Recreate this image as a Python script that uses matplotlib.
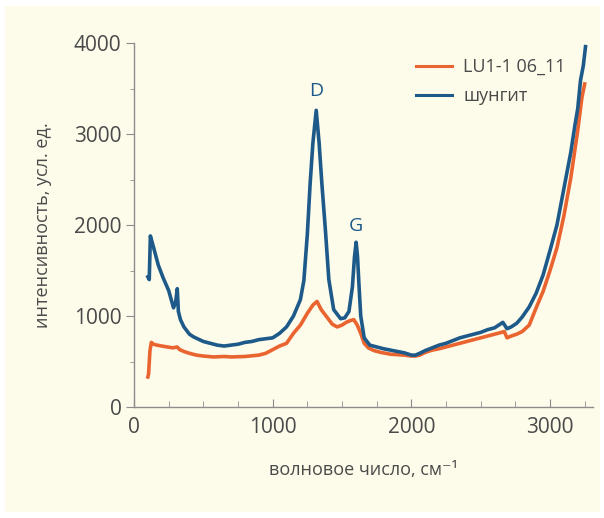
import numpy as np
import matplotlib.pyplot as plt
import matplotlib as mpl
from matplotlib.patches import Rectangle

mpl.rcParams["font.family"] = ["Open Sans", "DejaVu Sans"]

# шунгит (blue)
x_sh = [100, 110, 118, 140, 175, 210, 250, 285, 300, 312, 320, 335, 360, 400, 430, 500,
        550, 600, 650, 700, 750, 800, 850, 900, 950, 1000, 1050, 1100, 1150, 1200, 1225,
        1250, 1270, 1290, 1314, 1335, 1355, 1380, 1405, 1440, 1490, 1520, 1550, 1575, 1590,
        1602, 1612, 1622, 1635, 1660, 1700, 1750, 1800, 1850, 1900, 1950, 2000, 2030, 2060,
        2100, 2150, 2200, 2250, 2300, 2350, 2400, 2450, 2500, 2550, 2600, 2640, 2660, 2690,
        2720, 2760, 2800, 2850, 2900, 2950, 3000, 3050, 3100, 3150, 3180, 3200, 3220, 3240,
        3256]
y_sh = [1430, 1400, 1880, 1760, 1560, 1420, 1280, 1090, 1150, 1300, 1050, 960, 880, 800,
        770, 720, 700, 680, 670, 680, 690, 710, 720, 740, 750, 760, 810, 880, 1000, 1180,
        1390, 1900, 2450, 2900, 3260, 2900, 2450, 1950, 1400, 1070, 970, 980, 1050, 1320,
        1650, 1810, 1650, 1350, 1000, 760, 680, 660, 640, 625, 610, 595, 570, 570, 590,
        620, 650, 680, 700, 730, 760, 780, 800, 820, 850, 870, 910, 930, 860, 880, 920,
        990, 1100, 1250, 1450, 1720, 2000, 2400, 2800, 3100, 3280, 3590, 3750, 3960]

# LU1-1 06_11 (orange)
x_lu = [100, 105, 115, 125, 140, 165, 200, 240, 280, 310, 330, 360, 400, 450, 500, 575,
        650, 700, 800, 900, 950, 1000, 1050, 1100, 1150, 1200, 1250, 1290, 1320, 1350,
        1390, 1430, 1465, 1500, 1530, 1560, 1585, 1610, 1635, 1660, 1690, 1730, 1780,
        1850, 1900, 1950, 2000, 2030, 2060, 2100, 2150, 2200, 2250, 2300, 2350, 2400,
        2450, 2500, 2550, 2600, 2650, 2670, 2690, 2720, 2760, 2800, 2850, 2900, 2950,
        3000, 3050, 3100, 3150, 3200, 3230, 3250]
y_lu = [330, 360, 620, 710, 690, 680, 670, 660, 650, 660, 630, 610, 590, 570, 560, 550,
        555, 550, 555, 570, 590, 630, 670, 700, 810, 900, 1030, 1120, 1160, 1070, 990,
        910, 880, 900, 930, 950, 960, 900, 810, 700, 650, 620, 600, 580, 575, 570, 560,
        560, 570, 600, 625, 640, 660, 680, 700, 720, 740, 760, 780, 800, 820, 830, 760,
        780, 800, 830, 900, 1090, 1270, 1500, 1750, 2100, 2520, 3040, 3400, 3550]

blue = "#1d5a8a"
orange = "#ea6430"
txt = "#4a4a4a"
axc = "#8c8c8c"

fig = plt.figure(figsize=(6.04, 5.18), dpi=100, facecolor="w")
fig.patches.append(Rectangle((5 / 604, 6 / 518), 595 / 604, 506 / 518,
                             transform=fig.transFigure, fc="#fdfbea", ec="none", zorder=-10))
ax = fig.add_axes([134 / 604, 111 / 518, 459 / 604, 364 / 518])
ax.set_facecolor("none")

ax.plot(x_lu, y_lu, color=orange, lw=2.6, label="LU1-1 06_11")
ax.plot(x_sh, y_sh, color=blue, lw=2.6, label="шунгит")

ax.text(1314, 3470, "D", color=blue, fontsize=14, ha="center", va="center")
ax.text(1603, 1985, "G", color=blue, fontsize=14, ha="center", va="center")

ax.set_xlim(0, 3310)
ax.set_ylim(0, 4000)
ax.set_xticks([0, 1000, 2000, 3000])
ax.set_xticks(np.arange(0, 3301, 250), minor=True)
ax.set_yticks([0, 1000, 2000, 3000, 4000])
ax.set_yticks(np.arange(0, 4001, 500), minor=True)

for s in ["top", "right"]:
    ax.spines[s].set_visible(False)
for s in ["left", "bottom"]:
    ax.spines[s].set_color(axc)
    ax.spines[s].set_linewidth(1.0)

ax.tick_params(axis="x", which="both", direction="in", color=axc, labelcolor=txt,
               labelsize=15, pad=7)
ax.tick_params(axis="x", which="major", length=6)
ax.tick_params(axis="x", which="minor", length=4)
ax.tick_params(axis="y", which="both", direction="out", color=axc, labelcolor=txt,
               labelsize=15, pad=3)
ax.tick_params(axis="y", which="major", length=6)
ax.tick_params(axis="y", which="minor", length=3)

ax.set_xlabel("волновое число, см⁻¹", fontsize=13, color=txt, labelpad=17)
ax.set_ylabel("интенсивность, усл. ед.", fontsize=13, color=txt, labelpad=16)

leg = ax.legend(loc="upper left", bbox_to_anchor=(400 / 604, 1 - 42 / 518),
                bbox_transform=fig.transFigure, frameon=False, fontsize=13,
                handlelength=2.0, handletextpad=0.6, labelspacing=0.6)
for t in leg.get_texts():
    t.set_color(txt)
for h in leg.get_lines():
    h.set_linewidth(2.2)

fig.savefig("out.png", dpi=100, facecolor="w")
